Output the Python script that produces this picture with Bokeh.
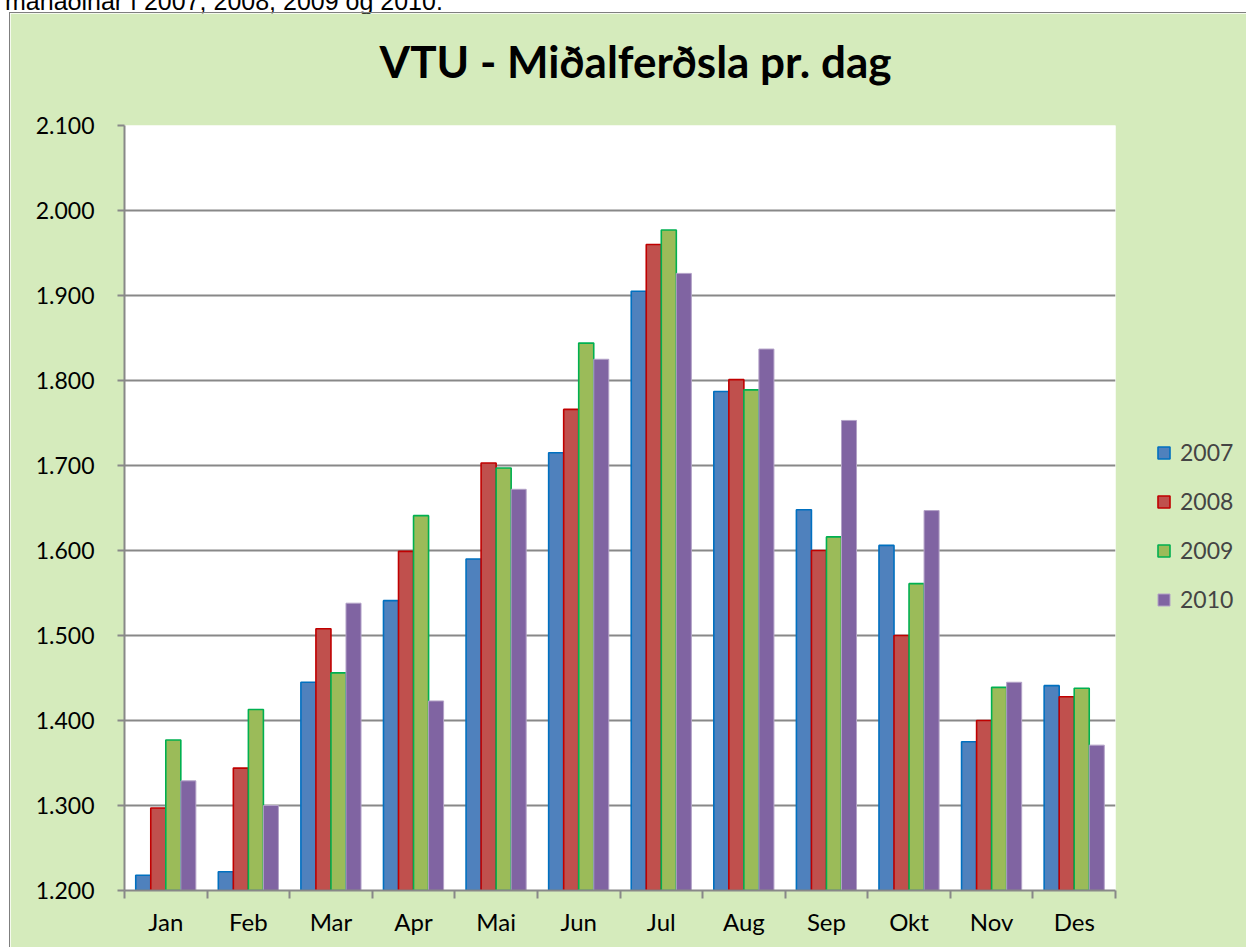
import numpy as np
from bokeh.plotting import figure
from bokeh.layouts import column
from bokeh.models import (ColumnDataSource, FixedTicker, Legend, LegendItem, Range1d, Div,
                          LinearAxis)
from bokeh.embed import file_html
from bokeh.resources import INLINE

# ---- data ----
months = ["Jan", "Feb", "Mar", "Apr", "Mai", "Jun", "Jul", "Aug", "Sep", "Okt", "Nov", "Des"]
years = ["2007", "2008", "2009", "2010"]
v2007 = [1218, 1222, 1445, 1541, 1590, 1715, 1905, 1787, 1648, 1606, 1375, 1441]
v2008 = [1297, 1344, 1508, 1599, 1703, 1766, 1960, 1801, 1600, 1500, 1400, 1428]
v2009 = [1377, 1413, 1456, 1641, 1697, 1844, 1977, 1789, 1616, 1561, 1439, 1438]
v2010 = [1329, 1300, 1538, 1423, 1672, 1825, 1926, 1837, 1753, 1647, 1445, 1371]
y_ticks = [1200, 1300, 1400, 1500, 1600, 1700, 1800, 1900, 2000, 2100]
y_tick_labels = ["1.200", "1.300", "1.400", "1.500", "1.600", "1.700", "1.800", "1.900", "2.000", "2.100"]
title_text = "VTU - Miðalferðsla pr. dag"
page_text = "mánaðinar í 2007, 2008, 2009 og 2010."

series = [v2007, v2008, v2009, v2010]
fills = ["#4F81BD", "#C0504D", "#9BBB59", "#8064A2"]
lines = ["#0070C0", "#C00000", "#00B050", "#B3A2C7"]
line_widths = [1.6, 1.6, 1.6, 1.0]

BG = "#D5EBBC"
GRID = "#888888"
FONT = "Lato"

p = figure(
    frame_width=989, frame_height=763,
    min_border_left=114, min_border_right=131, min_border_top=112, min_border_bottom=59,
    x_range=Range1d(0, 12), y_range=Range1d(1200, 2100),
    output_backend="svg", toolbar_location=None,
    background_fill_color="white", border_fill_color=BG,
    styles={"border": "1px solid #7f7f7f", "margin-top": "12px", "margin-left": "9px"},
)
p.outline_line_color = None

bar_w = 0.182
offsets = [-0.273, -0.091, 0.091, 0.273]
items = []
idx = np.arange(len(months))
for yr, vals, fc, lc, lw, off in zip(years, series, fills, lines, line_widths, offsets):
    src = ColumnDataSource(dict(x=idx + 0.5 + off, top=vals))
    r = p.vbar(x="x", top="top", bottom=1200, width=bar_w, source=src,
               fill_color=fc, line_color=lc, line_width=lw)
    items.append(LegendItem(label=yr, renderers=[r]))

# y axis
p.yaxis.ticker = FixedTicker(ticks=y_ticks, minor_ticks=[])
p.yaxis.major_label_overrides = {t: l for t, l in zip(y_ticks, y_tick_labels)}
p.yaxis.axis_line_color = GRID
p.yaxis.axis_line_width = 2
p.yaxis.major_tick_line_color = GRID
p.yaxis.major_tick_line_width = 2
p.yaxis.major_tick_out = 7
p.yaxis.major_tick_in = 0
p.yaxis.minor_tick_line_color = None
p.yaxis.major_label_standoff = 23
p.yaxis.major_label_text_font = FONT
p.yaxis.major_label_text_font_size = "23px"
p.yaxis.major_label_text_color = "black"

# x axis: labels at centres, ticks at boundaries
p.xaxis.ticker = FixedTicker(ticks=[i + 0.5 for i in range(12)], minor_ticks=list(range(13)))
p.xaxis.major_label_overrides = {i + 0.5: m for i, m in enumerate(months)}
p.xaxis.axis_line_color = GRID
p.xaxis.axis_line_width = 2
p.xaxis.major_tick_line_color = None
p.xaxis.major_tick_out = 8
p.xaxis.major_tick_in = 0
p.xaxis.minor_tick_line_color = GRID
p.xaxis.minor_tick_line_width = 2
p.xaxis.minor_tick_out = 8
p.xaxis.minor_tick_in = 0
p.xaxis.major_label_standoff = 8
p.xaxis.major_label_text_font = FONT
p.xaxis.major_label_text_font_size = "24px"
p.xaxis.major_label_text_color = "black"

p.xgrid.grid_line_color = None
p.ygrid.ticker = FixedTicker(ticks=y_ticks)
p.ygrid.grid_line_color = GRID
p.ygrid.grid_line_width = 2

# chart title, drawn as the single label of an axis above the plot area
title_pos = 6.188
title_axis = LinearAxis(
    ticker=FixedTicker(ticks=[title_pos], minor_ticks=[]),
    major_label_overrides={title_pos: title_text},
    axis_line_color=None, major_tick_line_color=None, minor_tick_line_color=None,
    major_tick_out=0, major_tick_in=0, major_label_standoff=39,
    major_label_text_font=FONT, major_label_text_font_style="bold",
    major_label_text_font_size="44px", major_label_text_color="black")
p.add_layout(title_axis, "above")

legend = Legend(items=items, location=(41, 277), orientation="vertical",
                glyph_width=15, glyph_height=15, label_standoff=9,
                label_text_font=FONT, label_text_font_size="23px", label_height=27,
                spacing=21, padding=0, margin=0,
                background_fill_alpha=0, border_line_alpha=0)
p.add_layout(legend, "right")

# fragment of the surrounding page text, cut off at the top edge of the window
top_text = Div(
    text='<span style="font-family: \'Liberation Sans\', Arial, sans-serif; font-size: 25px; '
         'line-height: 25px; white-space: nowrap; color: black;">' + page_text + '</span>',
    width=700, height=25,
    styles={"position": "absolute", "top": "-16px", "left": "0px"})

layout = column(top_text, p, spacing=0)
open("out.html", "w").write(file_html(layout, INLINE))
